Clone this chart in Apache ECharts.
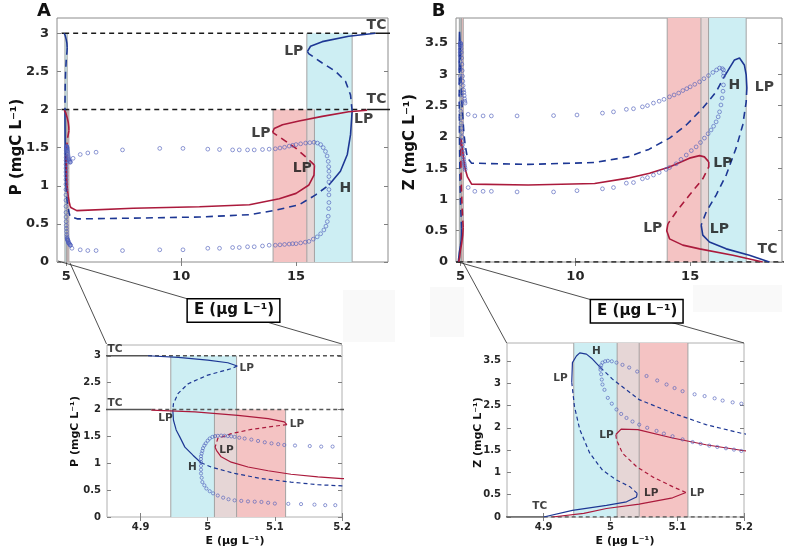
<!DOCTYPE html>
<html>
<head>
<meta charset="utf-8">
<script src="https://cdn.jsdelivr.net/npm/echarts@6/dist/echarts.min.js"></script>
<style>
html, body { margin: 0; padding: 0; background: #fff; }
#chart { width: 789px; height: 552px; }
</style>
</head>
<body>
<div id="chart"></div>
<script>
// ---- panel A : P vs E ----
const aBlueS1 = [[4.911,3.0],[4.956,2.97],[5.0,2.92],[5.03,2.87],[5.044,2.81]]
const aBlueD1 = [[5.044,2.81],[5.035,2.76],[5.0,2.64],[4.971,2.48],[4.956,2.30],[4.949,2.11],[4.948,1.99]]
const aBlueS2 = [[4.948,1.99],[4.949,1.80],[4.953,1.62],[4.958,1.50],[4.966,1.30],[4.978,1.15],[4.99,1.01]]
const aBlueD2 = [[4.99,1.01],[5.005,0.93],[5.04,0.81],[5.08,0.715],[5.124,0.65],[5.164,0.60],[5.2,0.58],[5.5,0.565],[7.9,0.575],[10.8,0.59],[12.97,0.62],[14.12,0.68],[15.13,0.75],[15.85,0.88],[16.43,1.01]]
const aBlueS3 = [[16.43,1.01],[16.93,1.19],[17.23,1.41],[17.37,1.67],[17.44,1.98]]
const aBlueD3 = [[17.44,1.98],[17.37,2.19],[17.15,2.37],[16.72,2.50],[16.14,2.61],[15.56,2.73],[15.49,2.76]]
const aBlueS4 = [[15.49,2.76],[15.63,2.83],[16.14,2.89],[17.29,2.96],[18.45,3.0]]

const aRedS1 = [[4.916,1.99],[4.981,1.955],[5.045,1.89],[5.09,1.83],[5.114,1.77],[5.118,1.72]]
const aRedD1 = [[5.118,1.72],[5.10,1.69],[5.065,1.63],[5.035,1.55],[5.015,1.46],[5.011,1.30]]
const aRedS2 = [[5.011,1.30],[5.013,1.24],[5.02,1.12],[5.035,1.02],[5.06,0.93],[5.09,0.86],[5.124,0.795],[5.164,0.745],[5.2,0.715],[5.46,0.674],[7.91,0.705],[10.8,0.725],[12.97,0.75],[14.27,0.83],[15.0,0.90],[15.56,1.01],[15.78,1.14],[15.8,1.27]]
const aRedD2 = [[15.8,1.27],[15.49,1.36],[15.0,1.49],[14.33,1.63],[13.98,1.70]]
const aRedS3 = [[13.98,1.70],[14.05,1.75],[14.41,1.80],[15.13,1.85],[16.14,1.91],[17.29,1.97],[18.09,1.99]]

const aCycMax = [[4.99,1.02],[4.99,1.08],[4.99,1.13],[4.991,1.18],[4.992,1.23],[4.993,1.28],[4.995,1.33],[4.997,1.37],[5.0,1.42],[5.003,1.46],[5.007,1.49],[5.011,1.505],[5.015,1.51],[5.02,1.515],[5.025,1.512],[5.03,1.505],[5.035,1.5],[5.04,1.49],[5.047,1.475],[5.055,1.46],[5.065,1.44],[5.075,1.415],[5.085,1.39],[5.095,1.37],[5.105,1.355],[5.114,1.34],[5.13,1.33],[5.152,1.32],[5.169,1.31],[5.186,1.31],[5.3,1.36],[5.61,1.41],[5.94,1.43],[6.3,1.44],[7.45,1.47],[9.07,1.49],[10.08,1.49],[11.16,1.48],[11.67,1.475],[12.24,1.47],[12.53,1.47],[12.89,1.47],[13.18,1.47],[13.54,1.475],[13.83,1.48],[14.1,1.485],[14.3,1.495],[14.5,1.505],[14.7,1.52],[14.85,1.53],[15.0,1.54],[15.2,1.55],[15.42,1.56],[15.6,1.565],[15.78,1.57],[15.93,1.56],[16.07,1.54],[16.18,1.5],[16.28,1.45],[16.35,1.39],[16.4,1.32],[16.42,1.25],[16.43,1.19],[16.43,1.12],[16.43,1.05]]
const aCycMin = [[4.99,0.95],[4.99,0.88],[4.99,0.81],[4.991,0.73],[4.992,0.65],[4.995,0.59],[4.998,0.53],[5.003,0.48],[5.008,0.44],[5.015,0.40],[5.023,0.36],[5.031,0.33],[5.04,0.31],[5.05,0.30],[5.06,0.29],[5.07,0.285],[5.08,0.28],[5.09,0.265],[5.10,0.25],[5.12,0.245],[5.139,0.24],[5.159,0.23],[5.175,0.22],[5.19,0.22],[5.25,0.18],[5.61,0.16],[5.94,0.15],[6.3,0.15],[7.45,0.15],[9.07,0.16],[10.08,0.16],[11.16,0.18],[11.67,0.18],[12.24,0.19],[12.53,0.19],[12.89,0.2],[13.18,0.2],[13.54,0.21],[13.83,0.22],[14.1,0.22],[14.3,0.225],[14.5,0.23],[14.7,0.235],[14.85,0.24],[15.0,0.24],[15.2,0.25],[15.4,0.26],[15.56,0.27],[15.75,0.30],[15.92,0.33],[16.07,0.37],[16.21,0.42],[16.3,0.47],[16.36,0.53],[16.4,0.60],[16.42,0.70],[16.43,0.78],[16.43,0.88],[16.43,0.95]]

const aTcSolid = [[[4.8,3],[4.911,3]],[[18.45,3],[19.5,3]],[[4.8,2],[4.916,2]],[[18.09,2],[19.5,2]]]
const aTcDashed = [[[4.911,3],[18.45,3]],[[4.916,2],[18.09,2]]]

// ---- panel B : Z vs E ----
const bBlueS1 = [[4.9,0],[4.943,0.15],[4.994,0.26],[5.024,0.34],[5.039,0.45],[5.04,0.53]]
const bBlueD1 = [[5.04,0.53],[5.029,0.68],[5.009,0.83],[4.988,1.05],[4.969,1.43],[4.954,1.96],[4.946,2.48],[4.942,3.02]]
const bBlueS2 = [[4.942,3.02],[4.943,3.46],[4.949,3.61],[4.954,3.68],[4.964,3.65],[4.973,3.54],[4.985,3.35]]
const bBlueD2 = [[4.985,3.35],[5.003,3.09],[5.043,2.63],[5.093,2.33],[5.143,2.07],[5.198,1.87],[5.3,1.66],[5.48,1.58],[7.94,1.56],[10.84,1.59],[12.29,1.68],[13.2,1.8],[14.1,1.98],[14.83,2.19],[15.55,2.46],[16.13,2.72],[16.45,2.94]]
const bBlueS3 = [[16.45,2.94],[16.71,3.10],[16.93,3.23],[17.15,3.26],[17.36,3.15],[17.44,2.99],[17.47,2.78]]
const bBlueD3 = [[17.47,2.78],[17.44,2.56],[17.29,2.19],[17.0,1.82],[16.57,1.39],[16.13,1.07],[15.7,0.80],[15.48,0.59]]
const bBlueS4 = [[15.48,0.59],[15.55,0.43],[15.84,0.32],[16.57,0.21],[17.58,0.107],[18.45,0]]

const bRedS1 = [[4.913,0],[4.96,0.08],[4.994,0.19],[5.043,0.29],[5.093,0.43],[5.113,0.55]]
const bRedD1 = [[5.113,0.55],[5.093,0.68],[5.063,0.90],[5.039,1.13],[5.018,1.43],[5.009,1.73],[5.008,1.85]]
const bRedS2 = [[5.008,1.85],[5.007,1.88],[5.016,1.97],[5.041,1.96],[5.093,1.77],[5.143,1.62],[5.198,1.49],[5.3,1.36],[5.48,1.245],[7.94,1.23],[10.84,1.255],[12.29,1.34],[13.23,1.42],[14.1,1.52],[14.97,1.66],[15.41,1.70],[15.62,1.68],[15.81,1.60]]
const bRedD2 = [[15.81,1.60],[15.81,1.52],[15.55,1.33],[14.97,1.07],[14.39,0.80],[14.03,0.61]]
const bRedS3 = [[14.03,0.61],[13.98,0.50],[14.1,0.37],[14.68,0.27],[15.41,0.21],[16.86,0.107],[18.16,0]]

const bCycMax = [[4.985,3.35],[4.986,3.40],[4.988,3.46],[4.992,3.49],[4.996,3.50],[5.002,3.49],[5.009,3.46],[5.018,3.41],[5.028,3.35],[5.04,3.26],[5.054,3.16],[5.07,3.06],[5.084,2.97],[5.096,2.89],[5.108,2.82],[5.126,2.75],[5.141,2.71],[5.156,2.66],[5.168,2.61],[5.183,2.57],[5.196,2.54],[5.33,2.36],[5.62,2.335],[5.98,2.335],[6.34,2.335],[7.46,2.335],[9.05,2.34],[10.07,2.35],[11.18,2.38],[11.66,2.40],[12.22,2.44],[12.53,2.45],[12.92,2.48],[13.14,2.50],[13.4,2.54],[13.65,2.57],[13.86,2.60],[14.1,2.64],[14.3,2.67],[14.5,2.70],[14.68,2.74],[14.85,2.77],[15.0,2.80],[15.2,2.84],[15.41,2.88],[15.6,2.93],[15.8,2.98],[15.99,3.03],[16.15,3.07],[16.28,3.10],[16.4,3.09],[16.45,3.07],[16.46,3.02],[16.45,2.97]]
const bCycMin = [[4.985,3.30],[4.986,3.20],[4.987,3.08],[4.988,2.97],[4.991,2.85],[4.996,2.67],[5.002,2.54],[5.009,2.41],[5.016,2.31],[5.024,2.22],[5.033,2.14],[5.043,2.07],[5.055,2.0],[5.069,1.93],[5.08,1.87],[5.093,1.81],[5.108,1.74],[5.123,1.68],[5.135,1.64],[5.148,1.60],[5.16,1.57],[5.173,1.54],[5.185,1.51],[5.196,1.48],[5.33,1.19],[5.62,1.13],[5.98,1.13],[6.34,1.13],[7.46,1.12],[9.05,1.12],[10.07,1.14],[11.18,1.17],[11.66,1.19],[12.22,1.26],[12.53,1.27],[12.92,1.33],[13.14,1.35],[13.4,1.39],[13.65,1.43],[13.95,1.48],[14.1,1.51],[14.39,1.57],[14.6,1.64],[14.83,1.71],[15.05,1.78],[15.26,1.84],[15.45,1.91],[15.62,1.98],[15.78,2.05],[15.91,2.11],[16.02,2.17],[16.13,2.24],[16.22,2.32],[16.28,2.40],[16.34,2.51],[16.39,2.62],[16.43,2.73],[16.45,2.83]]

const bTcSolid = [[[4.8,0],[4.9,0]]]
const bTcDashed = [[[4.9,0],[19.5,0]]]

// bistability bands (E ranges between limit points)
const cyanBands = [[4.945,5.043],[15.47,17.44]]
const redBands = [[5.01,5.116],[14.0,15.8]]

// tick values
const mainXTicks = [5,10,15]
const insetXTicks = [4.9,5,5.1,5.2]
const aYTicks = [0,0.5,1,1.5,2,2.5,3]
const bYTicks = [0,0.5,1,1.5,2,2.5,3,3.5]

// text annotations [label, E, value]
const aMainNotes = [['TC',18.5,3.11],['LP',14.9,2.76],['TC',18.5,2.13],['LP',17.94,1.87],['LP',13.47,1.69],['LP',15.27,1.23],['H',17.15,0.97]]
const bMainNotes = [['H',16.93,2.83],['LP',18.23,2.79],['LP',16.42,1.58],['LP',13.37,0.53],['LP',16.27,0.52],['TC',18.37,0.2]]
const aInsetNotes = [['TC',4.862,3.12],['LP',5.058,2.77],['TC',4.862,2.12],['LP',4.937,1.83],['LP',5.133,1.72],['LP',5.028,1.25],['H',4.977,0.93]]
const bInsetNotes = [['H',4.979,3.71],['LP',4.925,3.12],['LP',4.994,1.84],['TC',4.894,0.23],['LP',5.061,0.54],['LP',5.13,0.54]]

const FONT = '"DejaVu Sans", sans-serif'
const BLUE = '#1d3794'
const RED = '#ab1a3c'
const CYC = '#4f5fbb'
const bandFill = ['#cdeef3', '#f4c3c3', '#e6d6d6']

const chart = echarts.init(document.getElementById('chart'), null, { renderer: 'canvas' })

const grids = [
    { left: 57, top: 18, width: 331, height: 244, borderColor: '#8c8c8c' },
    { left: 456, top: 18, width: 326, height: 244, borderColor: '#8c8c8c' },
    { left: 107, top: 345, width: 235, height: 172, borderColor: '#b0b0b0' },
    { left: 507, top: 343, width: 237, height: 174, borderColor: '#b0b0b0' }
].map(g => Object.assign({ show: true, borderWidth: 1, containLabel: false, outerBoundsMode: 'none' }, g))

const xAxis = [], yAxis = []
function addAxes(gi, xr, yr, xt, yt, fs, mx, my) {
    const tick = vals => ({ show: true, inside: true, length: 4, customValues: vals, lineStyle: { color: '#808080', width: 1 } })
    const lab = (vals, m) => ({ show: true, customValues: vals, margin: m, color: '#262626', fontSize: fs, fontWeight: 'bold', fontFamily: FONT })
    const base = { type: 'value', gridIndex: gi, axisLine: { show: false }, splitLine: { show: false } }
    xAxis.push(Object.assign({}, base, { position: 'bottom', min: xr[0], max: xr[1], axisTick: tick(xt), axisLabel: lab(xt, mx) }))
    xAxis.push(Object.assign({}, base, { position: 'top', min: xr[0], max: xr[1], axisTick: tick(xt), axisLabel: { show: false } }))
    yAxis.push(Object.assign({}, base, { position: 'left', min: yr[0], max: yr[1], axisTick: tick(yt), axisLabel: lab(yt, my) }))
    yAxis.push(Object.assign({}, base, { position: 'right', min: yr[0], max: yr[1], axisTick: tick(yt), axisLabel: { show: false } }))
}
addAxes(0, [4.6, 19], [0, 3.2], mainXTicks, aYTicks, 13, 8, 8)
addAxes(1, [4.8, 19], [0, 3.9], mainXTicks, bYTicks, 13, 8, 8)
addAxes(2, [4.85, 5.2], [0, 3.2], insetXTicks, aYTicks, 10, 5, 6)
addAxes(3, [4.845, 5.2], [0, 3.9], insetXTicks, bYTicks, 10, 5, 6)

function bandItems(cTop, rTop) {
    const items = []
    cyanBands.forEach(b => items.push([b[0], b[1], cTop, 0]))
    redBands.forEach(b => items.push([b[0], b[1], rTop, 1]))
    cyanBands.forEach((c, i) => {
        const r = redBands[i]
        items.push([Math.max(c[0], r[0]), Math.min(c[1], r[1]), Math.min(cTop, rTop), 2])
    })
    return items
}

function bandSeries(gi, cTop, rTop) {
    const data = bandItems(cTop, rTop)
    const common = { type: 'custom', xAxisIndex: 2 * gi, yAxisIndex: 2 * gi, data: data, silent: true, animation: false,
        encode: { x: [0, 1], y: 2 } }
    return [
        Object.assign({}, common, { z: 1, renderItem(params, api) {
            const cs = params.coordSys
            const a = api.coord([api.value(0), 0])
            const b = api.coord([api.value(1), api.value(2)])
            const shape = echarts.graphic.clipRectByRect(
                { x: a[0], y: b[1], width: b[0] - a[0], height: a[1] - b[1] },
                { x: cs.x, y: cs.y, width: cs.width, height: cs.height })
            if (!shape) return null
            return { type: 'rect', shape: shape, style: { fill: bandFill[api.value(3)] } }
        } }),
        Object.assign({}, common, { z: 2, renderItem(params, api) {
            if (api.value(3) === 2) return null
            const cs = params.coordSys
            const a = api.coord([api.value(0), 0])
            const b = api.coord([api.value(1), api.value(2)])
            const kids = []
            ;[a[0], b[0]].forEach(x => {
                if (x >= cs.x - 0.5 && x <= cs.x + cs.width + 0.5)
                    kids.push({ type: 'line', shape: { x1: x, y1: b[1], x2: x, y2: a[1] }, style: { stroke: '#a3a3a3', lineWidth: 1 } })
            })
            return { type: 'group', children: kids }
        } })
    ]
}

function line(gi, data, color, width, dash, z) {
    return { type: 'line', xAxisIndex: 2 * gi, yAxisIndex: 2 * gi, data: data, showSymbol: false, symbol: 'none',
        silent: true, animation: false, clip: true, z: z || 4,
        lineStyle: { color: color, width: width, type: dash || 'solid' } }
}

function circles(gi, data, size) {
    return { type: 'scatter', xAxisIndex: 2 * gi, yAxisIndex: 2 * gi, data: data, symbol: 'circle', symbolSize: size,
        silent: true, animation: false, clip: true, z: 5,
        itemStyle: { color: 'rgba(255,255,255,0)', borderColor: CYC, borderWidth: 0.8 } }
}

function notes(gi, list, fs) {
    return { type: 'scatter', xAxisIndex: 2 * gi, yAxisIndex: 2 * gi, symbolSize: 1, silent: true, animation: false, z: 6,
        itemStyle: { color: 'rgba(0,0,0,0)' },
        data: list.map(n => ({ name: n[0], value: [n[1], n[2]] })),
        label: { show: true, position: 'inside', formatter: '{b}', color: '#111', fontSize: fs, fontWeight: 'bold', fontFamily: FONT } }
}

function panel(gi, p, main) {
    const w = main ? 1.6 : 1.2
    const dash = main ? [7, 5] : [4, 3]
    const tcColor = main ? '#1a1a1a' : '#555'
    const tcDash = main ? [5, 4] : [4, 3]
    let s = []
    s = s.concat(bandSeries(gi, p.cTop, p.rTop))
    p.tcSolid.forEach(d => s.push(line(gi, d, tcColor, main ? 1.5 : 1.3, 'solid', 3)))
    p.tcDashed.forEach(d => s.push(line(gi, d, tcColor, main ? 1.5 : 1.3, tcDash, 3)))
    p.blueS.forEach(d => s.push(line(gi, d, BLUE, w)))
    p.blueD.forEach(d => s.push(line(gi, d, BLUE, w, dash)))
    p.redS.forEach(d => s.push(line(gi, d, RED, w)))
    p.redD.forEach(d => s.push(line(gi, d, RED, w, dash)))
    s.push(circles(gi, p.cycMax, main ? 3.8 : 3.2))
    s.push(circles(gi, p.cycMin, main ? 3.8 : 3.2))
    s.push(notes(gi, main ? p.mainNotes : p.insetNotes, main ? 14 : 10.5))
    return s
}

const panelA = { cTop: 3, rTop: 2, tcSolid: aTcSolid, tcDashed: aTcDashed,
    blueS: [aBlueS1, aBlueS2, aBlueS3, aBlueS4], blueD: [aBlueD1, aBlueD2, aBlueD3],
    redS: [aRedS1, aRedS2, aRedS3], redD: [aRedD1, aRedD2],
    cycMax: aCycMax, cycMin: aCycMin, mainNotes: aMainNotes, insetNotes: aInsetNotes }
const panelB = { cTop: 3.9, rTop: 3.9, tcSolid: bTcSolid, tcDashed: bTcDashed,
    blueS: [bBlueS1, bBlueS2, bBlueS3, bBlueS4], blueD: [bBlueD1, bBlueD2, bBlueD3],
    redS: [bRedS1, bRedS2, bRedS3], redD: [bRedD1, bRedD2],
    cycMax: bCycMax, cycMin: bCycMin, mainNotes: bMainNotes, insetNotes: bInsetNotes }

const series = [].concat(panel(0, panelA, true), panel(2, panelA, false), panel(1, panelB, true), panel(3, panelB, false))

const txt = (x, y, text, size, rot, extra) => ({
    type: 'text', x: x, y: y, rotation: rot || 0, z: 100, silent: true,
    style: Object.assign({ text: text, fill: '#111', align: 'center', verticalAlign: 'middle',
        font: 'bold ' + size + 'px ' + FONT }, extra || {})
})
const seg = (x1, y1, x2, y2) => ({ type: 'line', z: 50, silent: true, shape: { x1: x1, y1: y1, x2: x2, y2: y2 }, style: { stroke: '#222', lineWidth: 0.8 } })
const box = { backgroundColor: '#fff', borderColor: '#000', borderWidth: 1.5, padding: [4, 5, 3, 6] }

const graphic = [
    { type: 'rect', z: 0, silent: true, shape: { x: 343, y: 290, width: 52, height: 52 }, style: { fill: '#f9f9f9' } },
    { type: 'rect', z: 0, silent: true, shape: { x: 430, y: 287, width: 34, height: 50 }, style: { fill: '#f9f9f9' } },
    { type: 'rect', z: 0, silent: true, shape: { x: 693, y: 285, width: 89, height: 27 }, style: { fill: '#f9f9f9' } },
    seg(58, 261, 342, 344), seg(70, 263, 106.5, 344),
    seg(456.7, 261.7, 744, 343), seg(463.3, 263, 506.7, 343),
    txt(233.5, 310.5, 'E (μg L⁻¹)', 15, 0, box),
    txt(636.7, 311.3, 'E (μg L⁻¹)', 15, 0, box),
    txt(17, 147, 'P (mgC L⁻¹)', 15, Math.PI / 2),
    txt(410, 142, 'Z (mgC L⁻¹)', 15, Math.PI / 2),
    txt(75.5, 431.5, 'P (mgC L⁻¹)', 11, Math.PI / 2),
    txt(478, 432.5, 'Z (mgC L⁻¹)', 11, Math.PI / 2),
    txt(235, 541.5, 'E (μg L⁻¹)', 11),
    txt(625, 541.5, 'E (μg L⁻¹)', 11),
    txt(44, 11, 'A', 18),
    txt(438.5, 11, 'B', 18)
]

chart.setOption({
    animation: false,
    backgroundColor: '#fff',
    grid: grids,
    xAxis: xAxis,
    yAxis: yAxis,
    series: series,
    graphic: graphic
})
</script>
</body>
</html>
